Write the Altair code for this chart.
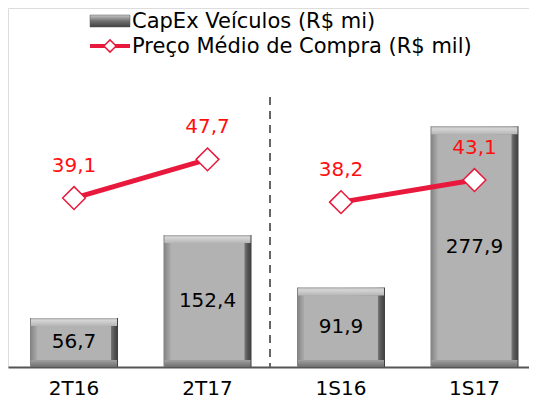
import altair as alt
import pandas as pd

categories = ["2T16", "2T17", "1S16", "1S17"]
capex = [56.7, 152.4, 91.9, 277.9]
preco = [39.1, 47.7, 38.2, 43.1]
grupo = ["T", "T", "S", "S"]

legend_capex = "CapEx Veículos (R$ mi)"
legend_preco = "Preço Médio de Compra (R$ mil)"

df = pd.DataFrame({"cat": categories, "capex": capex, "preco": preco, "grupo": grupo})

FONT = "DejaVu Sans"
RED_LINE = "#e8193c"
RED_TEXT = "#ff1010"

xs = alt.Scale(domain=categories, paddingInner=0.341, paddingOuter=0.165, range=[0, 532.5])
xaxis = alt.Axis(labelAngle=0, labelFontSize=20, labelFont=FONT, labelColor="#000",
                 ticks=False, domain=True, domainColor="#555", domainWidth=2,
                 labelPadding=11, grid=False, title=None)
X = alt.X("cat:N", scale=xs, sort=categories, title=None, axis=xaxis)
ybar_scale = alt.Scale(domain=[0, 414.5], nice=False, zero=True)
yline_scale = alt.Scale(domain=[1.6, 81.3], nice=False, zero=False)

base = alt.Chart(df).transform_calculate(
    half="datum.capex/2",
    zero0="0",
    capex_lbl="replace(format(datum.capex, '.1f'), '.', ',')",
    preco_lbl="replace(format(datum.preco, '.1f'), '.', ',')",
)

hgrad = alt.Gradient(gradient="linear", x1=0, x2=1, y1=0, y2=0, stops=[
    alt.GradientStop(color="#808080", offset=0),
    alt.GradientStop(color="#a6a6a6", offset=0.07),
    alt.GradientStop(color="#b2b2b2", offset=0.5),
    alt.GradientStop(color="#8c8c8c", offset=0.9),
    alt.GradientStop(color="#5a5a5a", offset=0.95),
    alt.GradientStop(color="#3c3c3c", offset=1),
])
topgrad = alt.Gradient(gradient="linear", x1=0, x2=0, y1=0, y2=1, stops=[
    alt.GradientStop(color="#a8a8a8", offset=0),
    alt.GradientStop(color="#d6d6d6", offset=0.3),
    alt.GradientStop(color="#b6b6b6", offset=1),
])
botgrad = alt.Gradient(gradient="linear", x1=0, x2=0, y1=0, y2=1, stops=[
    alt.GradientStop(color="#a0a0a0", offset=0),
    alt.GradientStop(color="#6e6e6e", offset=1),
])

YB = alt.Y("capex:Q", scale=ybar_scale, axis=None)
YL = alt.Y("preco:Q", scale=yline_scale, axis=None)

outer = base.mark_bar(width=88, color=hgrad).encode(x=X, y=YB, y2="zero0:Q")
top = base.mark_bar(width=86, color=topgrad, y2Offset=8).encode(x=X, y=YB, y2="capex:Q")
bot = base.mark_bar(width=86, color=botgrad, yOffset=-7).encode(
    x=X, y=alt.Y("zero0:Q", scale=ybar_scale, axis=None), y2="zero0:Q")
inner = base.mark_bar(width=74, color="#b2b2b2", yOffset=8, y2Offset=-7).encode(
    x=X, y=YB, y2="zero0:Q")
bartext = base.mark_text(fontSize=20, font=FONT, color="#000", baseline="middle").encode(
    x=X, y=alt.Y("half:Q", scale=ybar_scale, axis=None), text="capex_lbl:N")

line = base.mark_line(color=RED_LINE, strokeWidth=5).encode(x=X, y=YL, detail="grupo:N")
pts = base.mark_point(shape="diamond", size=520, filled=True, fill="#fff", stroke=RED_LINE,
                      strokeWidth=1.5, opacity=1).encode(x=X, y=YL)
linetext = base.mark_text(fontSize=20, font=FONT, color=RED_TEXT, dy=-32, baseline="middle").encode(
    x=X, y=YL, text="preco_lbl:N")

# separator and legend (decorations)
one = alt.Chart(pd.DataFrame({"k": [0]}))
sep = one.mark_rule(color="#666", strokeWidth=2, strokeDash=[8, 6]).encode(
    x=alt.value(262), y=alt.value(89), y2=alt.value(359))
leg_bar = one.mark_rect(color=alt.Gradient(gradient="linear", x1=0, x2=0, y1=0, y2=1, stops=[
    alt.GradientStop(color="#c8c8c8", offset=0),
    alt.GradientStop(color="#707070", offset=0.5),
    alt.GradientStop(color="#404040", offset=1)]), stroke="#555", strokeWidth=0.5).encode(
    x=alt.value(82), x2=alt.value(122), y=alt.value(7), y2=alt.value(19))
leg_line = one.mark_rule(color=RED_LINE, strokeWidth=4).encode(
    x=alt.value(82), x2=alt.value(122), y=alt.value(38))
leg_pt = one.mark_point(shape="diamond", size=150, filled=True, fill="#fff", stroke=RED_LINE,
                        strokeWidth=1.5, opacity=1).encode(x=alt.value(102), y=alt.value(38))
leg_t1 = one.mark_text(fontSize=21, font=FONT, color="#000", align="left", baseline="alphabetic",
                       text=legend_capex).encode(x=alt.value(124), y=alt.value(20))
leg_t2 = one.mark_text(fontSize=21, font=FONT, color="#000", align="left", baseline="alphabetic",
                       text=legend_preco).encode(x=alt.value(124), y=alt.value(45))

chart = alt.layer(
    outer, top, bot, inner, bartext, line, pts, linetext,
    sep, leg_bar, leg_line, leg_pt, leg_t1, leg_t2,
).resolve_scale(y="independent").properties(
    width=521, height=359, padding={"left": 0, "top": 0, "right": 0, "bottom": 32},
    autosize=alt.AutoSizeParams(type="none"),
).configure_view(stroke=None).configure(background="#ffffff")

chart.save("out.html", embed_options={"renderer": "svg", "actions": False})
